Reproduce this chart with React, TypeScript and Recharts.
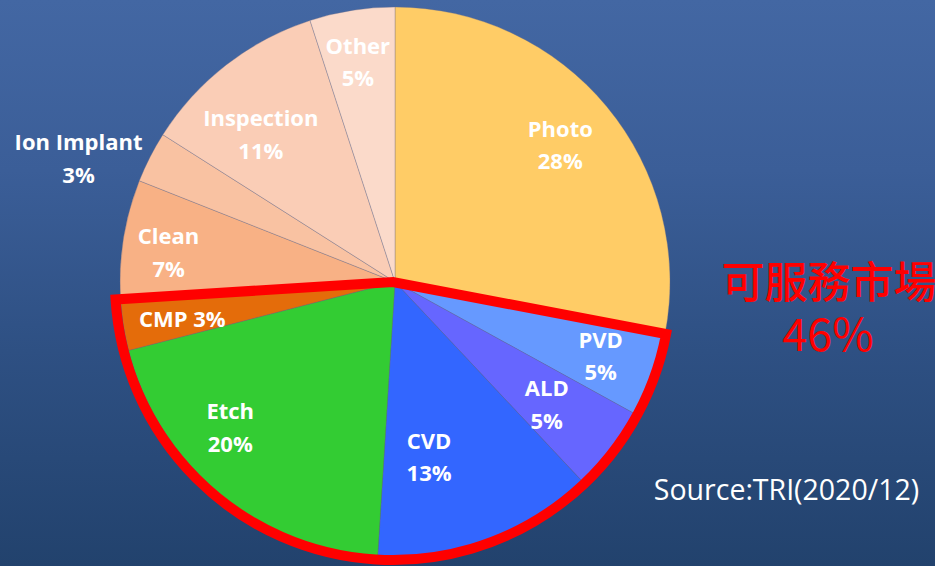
import React from 'react';
import { PieChart, Pie, Cell } from 'recharts';

// segment shares of the equipment market (%), clockwise from 12 o'clock
const categories = ['Photo', 'PVD', 'ALD', 'CVD', 'Etch', 'CMP', 'Clean', 'Ion Implant', 'Inspection', 'Other'];
const shares = [28, 5, 5, 13, 20, 3, 7, 3, 11, 5];
const sliceColors = ['#FFCC66', '#6699FF', '#6666FF', '#3366FF', '#33CC33', '#E46C0A', '#F8B185', '#F9C2A2', '#FACDB6', '#FBDACA'];

// the serviceable part that gets the red outline
const servedCategories = ['PVD', 'ALD', 'CVD', 'Etch', 'CMP'];
const servedTitle = '可服務市場';
const sourceNote = 'Source:TRI(2020/12)';

const W = 935;
const H = 566;
const CX = 395;
const CY = 282;
const R = 275;

// label spot: radius as a fraction of R, and a clockwise nudge (deg) off the slice's mid angle
const labelPlace: Record<string, [number, number]> = {
  Photo: [0.78, 0],
  PVD: [0.795, 0],
  ALD: [0.71, 1.2],
  CVD: [0.65, 8.8],
  Etch: [0.8, 8.9],
  CMP: [0.785, -0.9],
  Clean: [0.83, -1.7],
  'Ion Implant': [1.235, -5.7],
  Inspection: [0.725, -4.5],
  Other: [0.81, -0.6],
};

const sliceData = categories.map((name, i) => ({ name, value: shares[i] }));

const total = shares.reduce((a, b) => a + b, 0);
const firstServed = categories.indexOf(servedCategories[0]);
const beforeServed = shares.slice(0, firstServed).reduce((a, b) => a + b, 0);
const servedTotal = categories
  .map((c, i) => (servedCategories.includes(c) ? shares[i] : 0))
  .reduce((a, b) => a + b, 0);
const outlineData = [
  { name: 'before', value: beforeServed },
  { name: 'served', value: servedTotal },
  { name: 'after', value: total - beforeServed - servedTotal },
];

const RAD = Math.PI / 180;
const labelFont = { fill: '#ffffff', fontFamily: '"Open Sans", "Noto Sans", sans-serif', fontWeight: 700, fontSize: 22 };

const renderLabel = (props: any) => {
  const { cx, cy, midAngle, outerRadius, index } = props;
  const name = categories[index];
  const [k, nudge] = labelPlace[name] ?? [0.75, 0];
  const a = (midAngle - nudge) * RAD;
  const x = cx + outerRadius * k * Math.cos(a);
  const y = cy - outerRadius * k * Math.sin(a) - 1.5;
  const pct = `${shares[index]}%`;
  if (name === 'CMP') {
    return (
      <text x={x} y={y} textAnchor="middle" dominantBaseline="central" style={labelFont}>
        {`${name} ${pct}`}
      </text>
    );
  }
  return (
    <g>
      <text x={x} y={y - 16} textAnchor="middle" dominantBaseline="central" style={labelFont}>{name}</text>
      <text x={x} y={y + 16.5} textAnchor="middle" dominantBaseline="central" style={labelFont}>{pct}</text>
    </g>
  );
};

export default function App() {
  return (
    <div
      style={{
        position: 'absolute',
        left: 0,
        top: 0,
        width: W,
        height: H,
        overflow: 'hidden',
        background: 'linear-gradient(180deg, #4367a3 0%, #3b5e98 30%, #2e5083 62%, #22426d 100%)',
      }}
    >
      <PieChart width={W} height={H} margin={{ top: 0, right: 0, bottom: 0, left: 0 }}>
        <Pie
          data={sliceData}
          dataKey="value"
          nameKey="name"
          cx={CX}
          cy={CY}
          outerRadius={R}
          startAngle={90}
          endAngle={-270}
          label={renderLabel}
          labelLine={false}
          isAnimationActive={false}
        >
          {sliceData.map((d, i) => (
            <Cell key={d.name} fill={sliceColors[i]} stroke="rgba(110,110,135,0.45)" strokeWidth={0.75} />
          ))}
        </Pie>
        <Pie
          data={outlineData}
          dataKey="value"
          cx={CX - 2}
          cy={CY}
          outerRadius={R + 3}
          startAngle={90}
          endAngle={-270}
          label={false}
          labelLine={false}
          isAnimationActive={false}
        >
          {outlineData.map((d) => (
            <Cell
              key={d.name}
              fill="none"
              stroke={d.name === 'served' ? '#FF0000' : 'none'}
              strokeWidth={d.name === 'served' ? 10 : 0}
              strokeLinejoin="miter"
            />
          ))}
        </Pie>
      </PieChart>
      <svg width={W} height={H} style={{ position: 'absolute', left: 0, top: 0, pointerEvents: 'none' }}>
        <text
          x={829}
          y={298}
          textAnchor="middle"
          style={{ fill: '#FF0000', fontFamily: '"Noto Sans CJK TC", sans-serif', fontSize: 43, fontWeight: 500 }}
        >
          {servedTitle}
        </text>
        <text
          x={828}
          y={351}
          textAnchor="middle"
          style={{ fill: '#FF0000', fontFamily: '"Noto Sans CJK TC", sans-serif', fontSize: 45 }}
        >
          {`${servedTotal}%`}
        </text>
        <text
          x={786.5}
          y={500}
          textAnchor="middle"
          style={{ fill: '#ffffff', fontFamily: '"Open Sans", "Noto Sans", sans-serif', fontSize: 28.5 }}
        >
          {sourceNote}
        </text>
      </svg>
    </div>
  );
}
